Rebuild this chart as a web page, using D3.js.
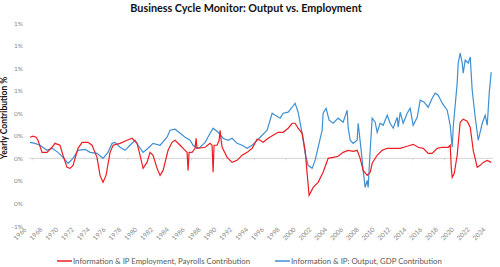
<!DOCTYPE html>
<html>
<head>
<meta charset="utf-8">
<script src="https://cdn.jsdelivr.net/npm/d3@7"></script>
<style>
  body { margin: 0; background: #fff; }
  svg { display: block; font-family: Lato, "Open Sans", sans-serif; }
</style>
</head>
<body>
<div id="chart"></div>
<script>
// Employment (payrolls) contribution, % yearly
const empYears = [1966.63,1967.01,1967.39,1967.64,1968.15,1968.78,1969.41,1969.79,1970.42,1970.80,1971.31,1971.69,1972.07,1972.70,1973.21,1973.96,1974.47,1975.10,1975.48,1975.86,1976.24,1976.75,1977.13,1978.01,1978.90,1979.53,1980.16,1980.54,1980.92,1981.42,1981.80,1982.18,1982.69,1983.07,1983.45,1984.08,1984.58,1984.96,1985.60,1986.23,1986.48,1986.61,1986.73,1987.11,1987.49,1987.62,1987.74,1988.76,1989.39,1989.64,1989.77,1989.89,1990.27,1990.53,1990.65,1990.78,1990.91,1991.54,1992.17,1992.80,1993.43,1994.07,1994.70,1995.33,1995.71,1996.09,1996.72,1997.35,1997.99,1998.62,1999.25,1999.76,2000.13,2000.51,2001.02,2001.40,2001.65,2001.90,2002.41,2003.04,2003.67,2004.31,2004.94,2005.57,2006.20,2006.83,2007.47,2007.97,2008.35,2008.73,2009.24,2009.62,2009.87,2010.50,2011.13,2011.77,2012.52,2013.41,2014.29,2015.05,2015.68,2016.32,2016.95,2017.45,2018.09,2018.72,2019.48,2019.73,2019.86,2019.98,2020.24,2020.61,2020.99,2021.37,2021.88,2022.26,2022.64,2023.14,2023.52,2023.90,2024.41,2024.91];
const empValues = [0.187,0.196,0.187,0.16,0.053,0.053,0.098,0.133,0.116,0.027,-0.08,-0.089,-0.062,0.089,0.142,0.142,0.116,0.009,-0.151,-0.213,-0.151,0.053,0.116,0.133,0.16,0.178,0.133,0.027,-0.089,-0.036,0.053,0.027,-0.089,-0.151,-0.107,0.071,0.142,0.16,0.116,0.071,0.053,-0.107,0.053,0.053,0.089,0.178,0.089,0.098,0.133,0.116,-0.124,0.116,0.116,0.16,0.249,0.16,0.098,0.009,-0.036,-0.018,0.027,0.053,0.089,0.169,0.16,0.142,0.178,0.204,0.231,0.231,0.267,0.311,0.311,0.267,0.222,0.071,-0.133,-0.329,-0.258,-0.213,-0.124,0,0.009,0.018,0.053,0.071,0.062,0.071,0,-0.107,-0.151,-0.124,-0.044,0.027,0.071,0.089,0.089,0.089,0.107,0.124,0.098,0.089,0.044,0.044,0.089,0.098,0.098,0.116,-0.08,-0.169,-0.133,0.027,0.32,0.347,0.329,0.276,0.071,-0.08,-0.062,-0.036,-0.018,-0.036];

// Output (GDP) contribution, % yearly
const gdpYears = [1966.63,1967.26,1967.90,1968.78,1969.41,1970.17,1970.80,1971.44,1972.07,1972.70,1973.59,1974.22,1975.10,1975.86,1976.49,1977.00,1977.38,1978.01,1978.64,1979.27,1979.91,1980.29,1980.92,1981.55,1982.18,1983.07,1983.95,1984.33,1984.96,1985.60,1986.23,1986.86,1987.24,1987.74,1988.12,1988.76,1989.39,1989.77,1990.40,1991.03,1991.66,1992.17,1992.80,1993.43,1994.07,1994.70,1995.08,1995.71,1996.59,1997.23,1997.61,1998.24,1998.62,1999.25,1999.76,2000.13,2000.51,2001.02,2001.40,2001.78,2002.28,2002.66,2003.04,2003.55,2003.67,2004.05,2004.43,2004.94,2005.57,2006.20,2006.71,2006.83,2007.09,2007.47,2007.97,2008.10,2008.48,2008.73,2008.98,2009.24,2009.36,2009.62,2009.87,2010.25,2010.50,2010.88,2011.26,2011.77,2012.14,2012.52,2013.03,2013.16,2013.41,2013.79,2014.29,2014.67,2015.05,2015.56,2015.94,2016.44,2016.95,2017.45,2017.83,2018.21,2018.72,2019.35,2019.73,2019.98,2020.11,2020.61,2020.74,2020.99,2021.25,2021.37,2021.63,2022.01,2022.26,2022.51,2022.89,2023.27,2023.78,2024.15,2024.41,2024.66,2024.91];
const gdpValues = [0.142,0.133,0.116,0.071,0.089,0.053,0.009,-0.044,0,0.071,0.08,0.053,0.044,0,0.053,0.133,0.142,0.098,0.071,0.116,0.16,0.116,0.053,0.089,0.133,0.116,0.187,0.249,0.258,0.222,0.187,0.16,0.116,0.089,0.098,0.142,0.222,0.267,0.231,0.178,0.16,0.178,0.133,0.116,0.089,0.116,0.142,0.187,0.249,0.4,0.382,0.356,0.4,0.409,0.453,0.489,0.409,0.222,0.044,-0.062,-0.089,-0.018,0.098,0.249,0.4,0.444,0.338,0.311,0.356,0.32,0.427,0.276,0.16,0.133,0.16,0.311,0.071,-0.107,-0.258,-0.196,-0.258,0.071,0.356,0.32,0.231,0.311,0.293,0.382,0.311,0.267,0.364,0.276,0.409,0.311,0.4,0.444,0.293,0.364,0.516,0.498,0.453,0.533,0.578,0.56,0.489,0.427,0.293,0.098,0.276,0.667,0.844,0.933,0.844,0.756,0.871,0.844,0.898,0.604,0.364,0.16,0.311,0.382,0.293,0.578,0.764];

const yTicks = [-0.6,-0.4,-0.2,0,0.2,0.4,0.6,0.8,1.0,1.2];
const xTickYears = d3.range(1966, 2025, 2);
const seriesNames = ["Information & IP Employment, Payrolls Contribution", "Information & IP: Output, GDP Contribution"];
const seriesColors = ["#ee1c24", "#3f8fd2"];

const w = 500, h = 267;
const svg = d3.select("#chart").append("svg").attr("width", w).attr("height", h);

const x = d3.scaleLinear().domain([1966, 2024]).range([25, 484]);
const y = d3.scaleLinear().domain([-0.6, 1.2]).range([226, 23]);

// title
svg.append("text")
    .attr("x", 246).attr("y", 12)
    .attr("text-anchor", "middle")
    .style("font-size", "10.8px").style("font-weight", "bold").style("fill", "#111")
    .text("Business Cycle Monitor: Output vs. Employment");

// y title
svg.append("text")
    .attr("transform", "translate(7,118) rotate(-90)")
    .attr("text-anchor", "middle")
    .style("font-size", "8.5px").style("font-weight", "bold").style("fill", "#111")
    .text("Yearly Contribution %");

// y labels (no gridlines)
svg.append("g").selectAll("text")
    .data(yTicks)
    .join("text")
    .attr("x", 23).attr("y", d => y(d) + 2.5)
    .attr("text-anchor", "end")
    .style("font-size", "6.5px").style("fill", "#8a8a8a")
    .text(d => Math.round(d) + "%");

// zero line with ticks
svg.append("line")
    .attr("x1", 29).attr("x2", 493)
    .attr("y1", y(0)).attr("y2", y(0))
    .attr("stroke", "#d4d4d4").attr("stroke-width", 1);

svg.append("g").selectAll("line")
    .data(d3.range(1967, 2025, 4))
    .join("line")
    .attr("x1", d => x(d)).attr("x2", d => x(d))
    .attr("y1", y(0)).attr("y2", y(0) + 2)
    .attr("stroke", "#d4d4d4");

// x labels at bottom
svg.append("g").selectAll("text")
    .data(xTickYears)
    .join("text")
    .attr("transform", d => "translate(" + (x(d) + 2) + ",230) rotate(-45)")
    .attr("text-anchor", "end")
    .style("font-size", "6.5px").style("fill", "#8a8a8a")
    .text(d => d);

// lines
const line = d3.line().x(d => x(d[0])).y(d => y(d[1]));
const emp = empYears.map((d, i) => [d, empValues[i]]);
const gdp = gdpYears.map((d, i) => [d, gdpValues[i]]);

svg.append("path").datum(gdp)
    .attr("d", line).attr("fill", "none")
    .attr("stroke", seriesColors[1]).attr("stroke-width", 1.2);

svg.append("path").datum(emp)
    .attr("d", line).attr("fill", "none")
    .attr("stroke", seriesColors[0]).attr("stroke-width", 1.2);

// legend
const legendPos = [[57, 261], [275, 261]];
const legend = svg.append("g").selectAll("g")
    .data(seriesNames)
    .join("g")
    .attr("transform", (d, i) => "translate(" + legendPos[i][0] + "," + legendPos[i][1] + ")");
legend.append("line")
    .attr("x1", 0).attr("x2", 15).attr("y1", 0).attr("y2", 0)
    .attr("stroke", (d, i) => seriesColors[i]).attr("stroke-width", 1.5);
legend.append("text")
    .attr("x", 16).attr("y", 2.8)
    .style("font-size", "7.8px").style("fill", "#595959")
    .text(d => d);
</script>
</body>
</html>
